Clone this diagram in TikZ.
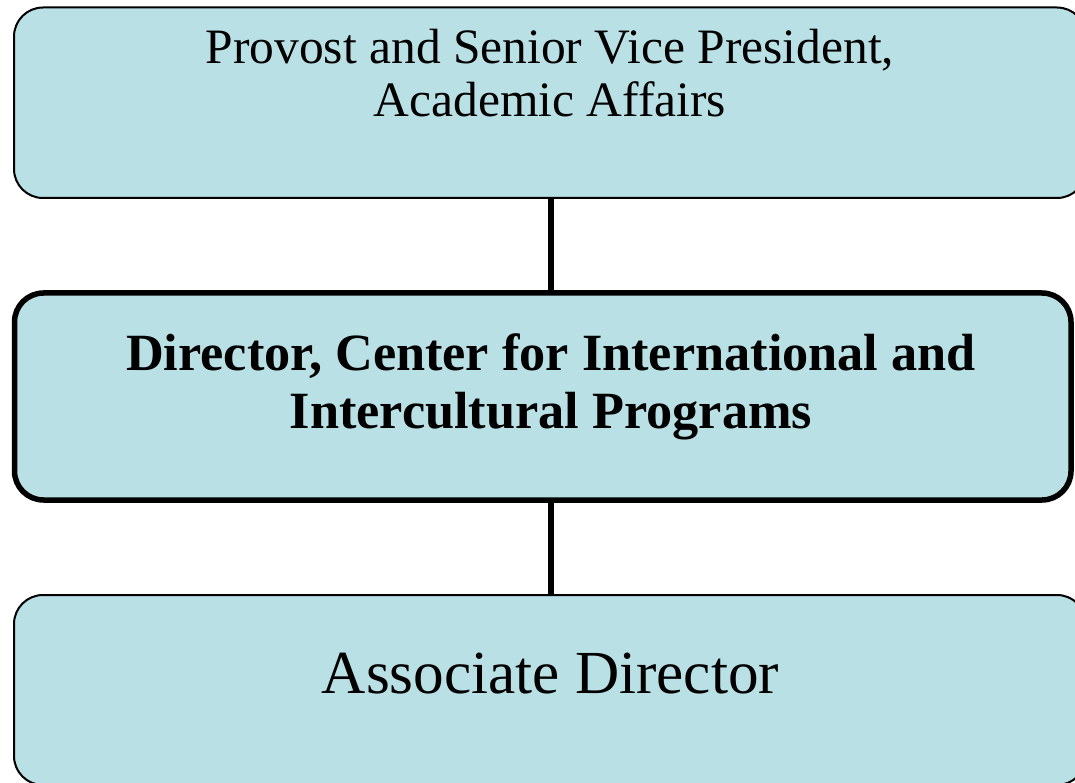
\documentclass[tikz,border=0pt]{standalone}
\usepackage{fontspec}
\setmainfont{Liberation Serif}
\definecolor{boxfill}{RGB}{185,224,228}
\tikzset{
  box/.style={draw=black, fill=boxfill, rounded corners=29pt, inner sep=0pt},
  thinbox/.style={box, line width=2pt},
  thickbox/.style={box, line width=5.5pt},
  conn/.style={draw=black, line width=5.5pt},
  lbl/.style={inner sep=0pt, align=center, anchor=base}
}
\begin{document}
\begin{tikzpicture}[x=1pt,y=-1pt]
\useasboundingbox (0,0) rectangle (1075,783);
\clip (0,0) rectangle (1075,783);
\node[thinbox, minimum width=1072pt, minimum height=190.5pt] (top) at (550,102.75) {};
\node[thickbox, minimum width=1056.5pt, minimum height=207pt] (mid) at (542.75,396.5) {};
\node[thinbox, minimum width=1072pt, minimum height=190pt] (bot) at (550,690) {};
\coordinate (cx) at (551,0);
\draw[conn] (top.south -| cx) -- (mid.north -| cx);
\draw[conn] (mid.south -| cx) -- (bot.north -| cx);
\node[lbl, font=\fontsize{49.5pt}{53pt}\selectfont] (ttop) at (550,117) {Provost and Senior Vice President,\\Academic Affairs};
\node[lbl, font=\fontsize{52.3pt}{58pt}\selectfont\bfseries] (tmid) at (551,428) {Director, Center for International and\\Intercultural Programs};
\node[lbl, font=\fontsize{61.2pt}{72pt}\selectfont] (tbot) at (550.5,693) {Associate Director};
\end{tikzpicture}
\end{document}
